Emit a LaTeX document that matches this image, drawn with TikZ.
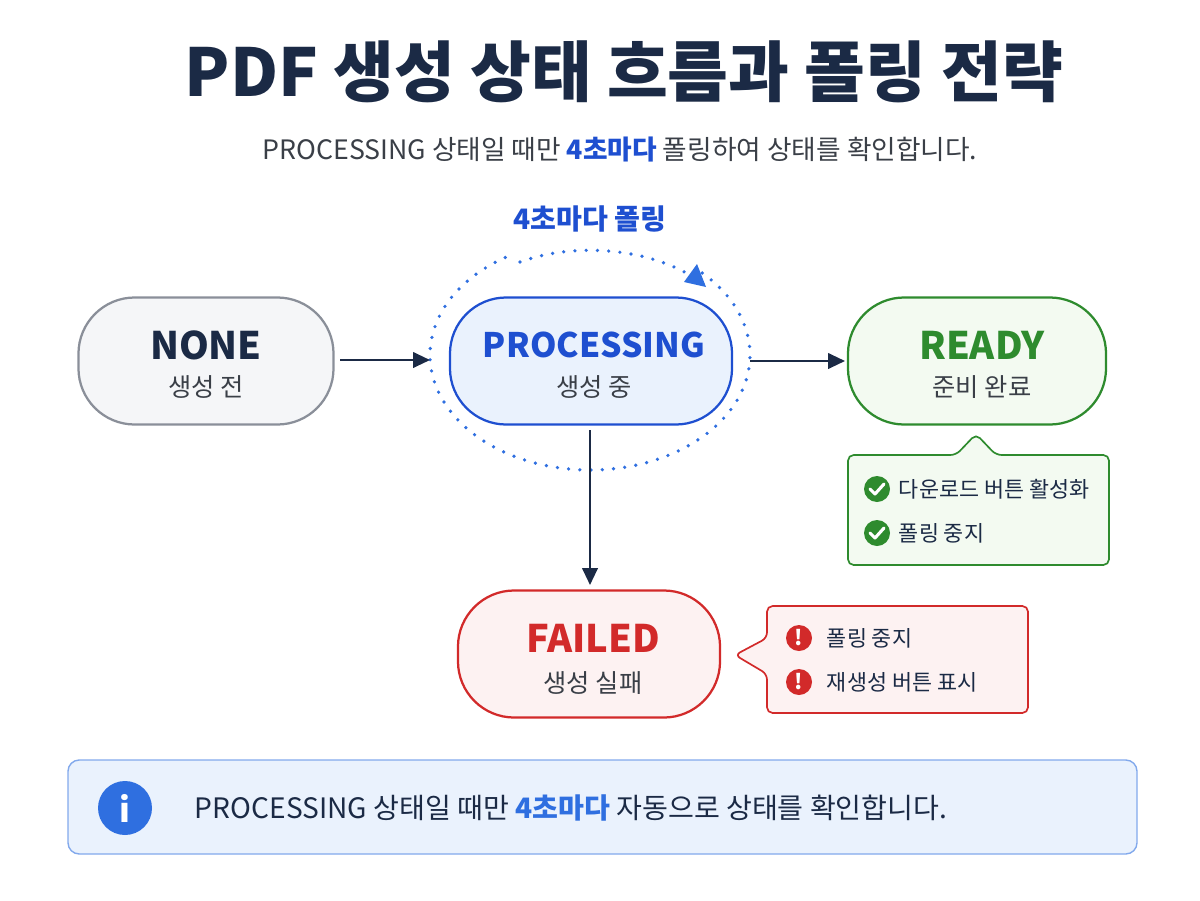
\documentclass[tikz,border=0pt]{standalone}
\usepackage{fontspec}
\setmainfont{Noto Sans CJK KR}
\usetikzlibrary{arrows.meta,shapes.callouts}
\definecolor{ink}{HTML}{1B2A45}
\definecolor{pblue}{HTML}{1E4FD0}
\definecolor{dblue}{HTML}{2F6FE0}
\definecolor{gbord}{HTML}{8A8F99}
\definecolor{gfill}{HTML}{F5F6F8}
\definecolor{bfill}{HTML}{EAF2FD}
\definecolor{gr}{HTML}{2E8B2E}
\definecolor{grfill}{HTML}{F3FAF1}
\definecolor{rd}{HTML}{D22A2A}
\definecolor{rdfill}{HTML}{FDF2F2}
\definecolor{txt}{HTML}{3A3F47}
\tikzset{
  state/.style={rounded corners=40pt, minimum width=255*0.7113pt, minimum height=127*0.7113pt,
    line width=1.6pt, align=center},
  flow/.style={draw=ink, line width=1.6pt, -{Triangle[length=12pt,width=11pt]}},
  big/.style={font=\fontsize{27}{30}\selectfont\bfseries},
  small/.style={font=\fontsize{18}{22}\selectfont, text=txt},
  item/.style={font=\fontsize{15.5}{18}\selectfont, text=ink, anchor=west},
  dots/.style={dblue, line width=2.6pt, dash pattern=on 0pt off 8pt, line cap=round},
}
\begin{document}
\begin{tikzpicture}[x=0.025cm,y=-0.025cm]
  \useasboundingbox (0,0) rectangle (1200,900);
  % title
  \node (title) at (624,72) {\fontsize{47}{50}\selectfont\bfseries\color{ink}PDF 생성 상태 흐름과 폴링 전략};
  \node (sub) at (620,150) {\fontsize{19}{22}\selectfont\color{txt}PROCESSING 상태일 때만 \textcolor{pblue}{\bfseries 4초마다} 폴링하여 상태를 확인합니다.};
  % states
  \node[state, draw=gbord, fill=gfill] (none) at (206,361) {};
  \node[big, text=ink] at (206,345) {NONE};
  \node[small] at (206,387) {생성 전};
  \node[state, draw=pblue, fill=bfill, minimum width=282*0.7113pt] (proc) at (591,361) {};
  \node[big, text=pblue, font=\fontsize{24}{28}\selectfont\bfseries] at (594,345) {PROCESSING};
  \node[small] at (594,387) {생성 중};
  \node[state, draw=gr, fill=grfill, minimum width=258*0.7113pt] (ready) at (977,361) {};
  \node[big, text=gr] at (982,345) {READY};
  \node[small] at (982,387) {준비 완료};
  \node[state, draw=rd, fill=rdfill, minimum width=262*0.7113pt] (fail) at (589,654) {};
  \node[big, text=rd] at (593,638) {FAILED};
  \node[small] at (593,683) {생성 실패};
  % polling loop
  \draw[dots]
    (590,355) ++(122:160 and -115) arc[start angle=122, end angle=408, x radius=160, y radius=-115];
  \coordinate (pa) at (520,262);
  \coordinate (pb) at (703,284);
  \draw[dots] (pa) .. controls (580,240) and (660,250) .. (pb);
  \fill[dblue] (706,287) -- (684,282) -- (697,264) -- cycle;
  \node (polllbl) at (590,219) {\fontsize{20}{22}\selectfont\bfseries\color{pblue}4초마다 폴링};
  % arrows
  \coordinate (n1) at (340,360); \coordinate (n2) at (430,360);
  \draw[flow] (n1) -- (n2);
  \coordinate (r1) at (750,361); \coordinate (r2) at (845,361);
  \draw[flow] (r1) -- (r2);
  \coordinate (f1) at (590,430); \coordinate (f2) at (590,585);
  \draw[flow] (f1) -- (f2);
  % ready callout
  \draw[gr, fill=grfill, line width=1.2pt, rounded corners=4]
    (848,455) -- (956,455) -- (976,434) -- (996,455) -- (1109,455) -- (1109,565) -- (848,565) -- cycle;
  \foreach \yy/\t in {489/다운로드 버튼 활성화, 533/폴링 중지}{
    \fill[gr] (877,\yy) circle (13);
    \draw[white, line width=2.2pt, line cap=round, line join=round] (870,\yy) -- (875,\yy+5) -- (884,\yy-5);
    \node[item] at (894,\yy) {\t};
  }
  % failed callout
  \draw[rd, fill=rdfill, line width=1.2pt, rounded corners=4]
    (767,606) -- (1028,606) -- (1028,713) -- (767,713) -- (767,674) -- (735,655) -- (767,638) -- cycle;
  \foreach \yy/\t in {638/폴링 중지, 682/재생성 버튼 표시}{
    \fill[rd] (799,\yy) circle (13);
    \node[text=white, font=\fontsize{15}{16}\selectfont\bfseries] at (799,\yy) {!};
    \node[item] at (822,\yy) {\t};
  }
  % info bar
  \draw[dblue!60, fill=bfill, line width=1pt, rounded corners=8] (68,760) rectangle (1137,854);
  \fill[dblue] (125,808) circle (27);
  \node[text=white, font=\fontsize{24}{26}\selectfont\bfseries] (info) at (125,808) {i};
  \node[anchor=west] (note) at (190,808) {\fontsize{20}{22}\selectfont\color{ink}PROCESSING 상태일 때만 \textcolor{dblue}{\bfseries 4초마다} 자동으로 상태를 확인합니다.};
\end{tikzpicture}
\end{document}
